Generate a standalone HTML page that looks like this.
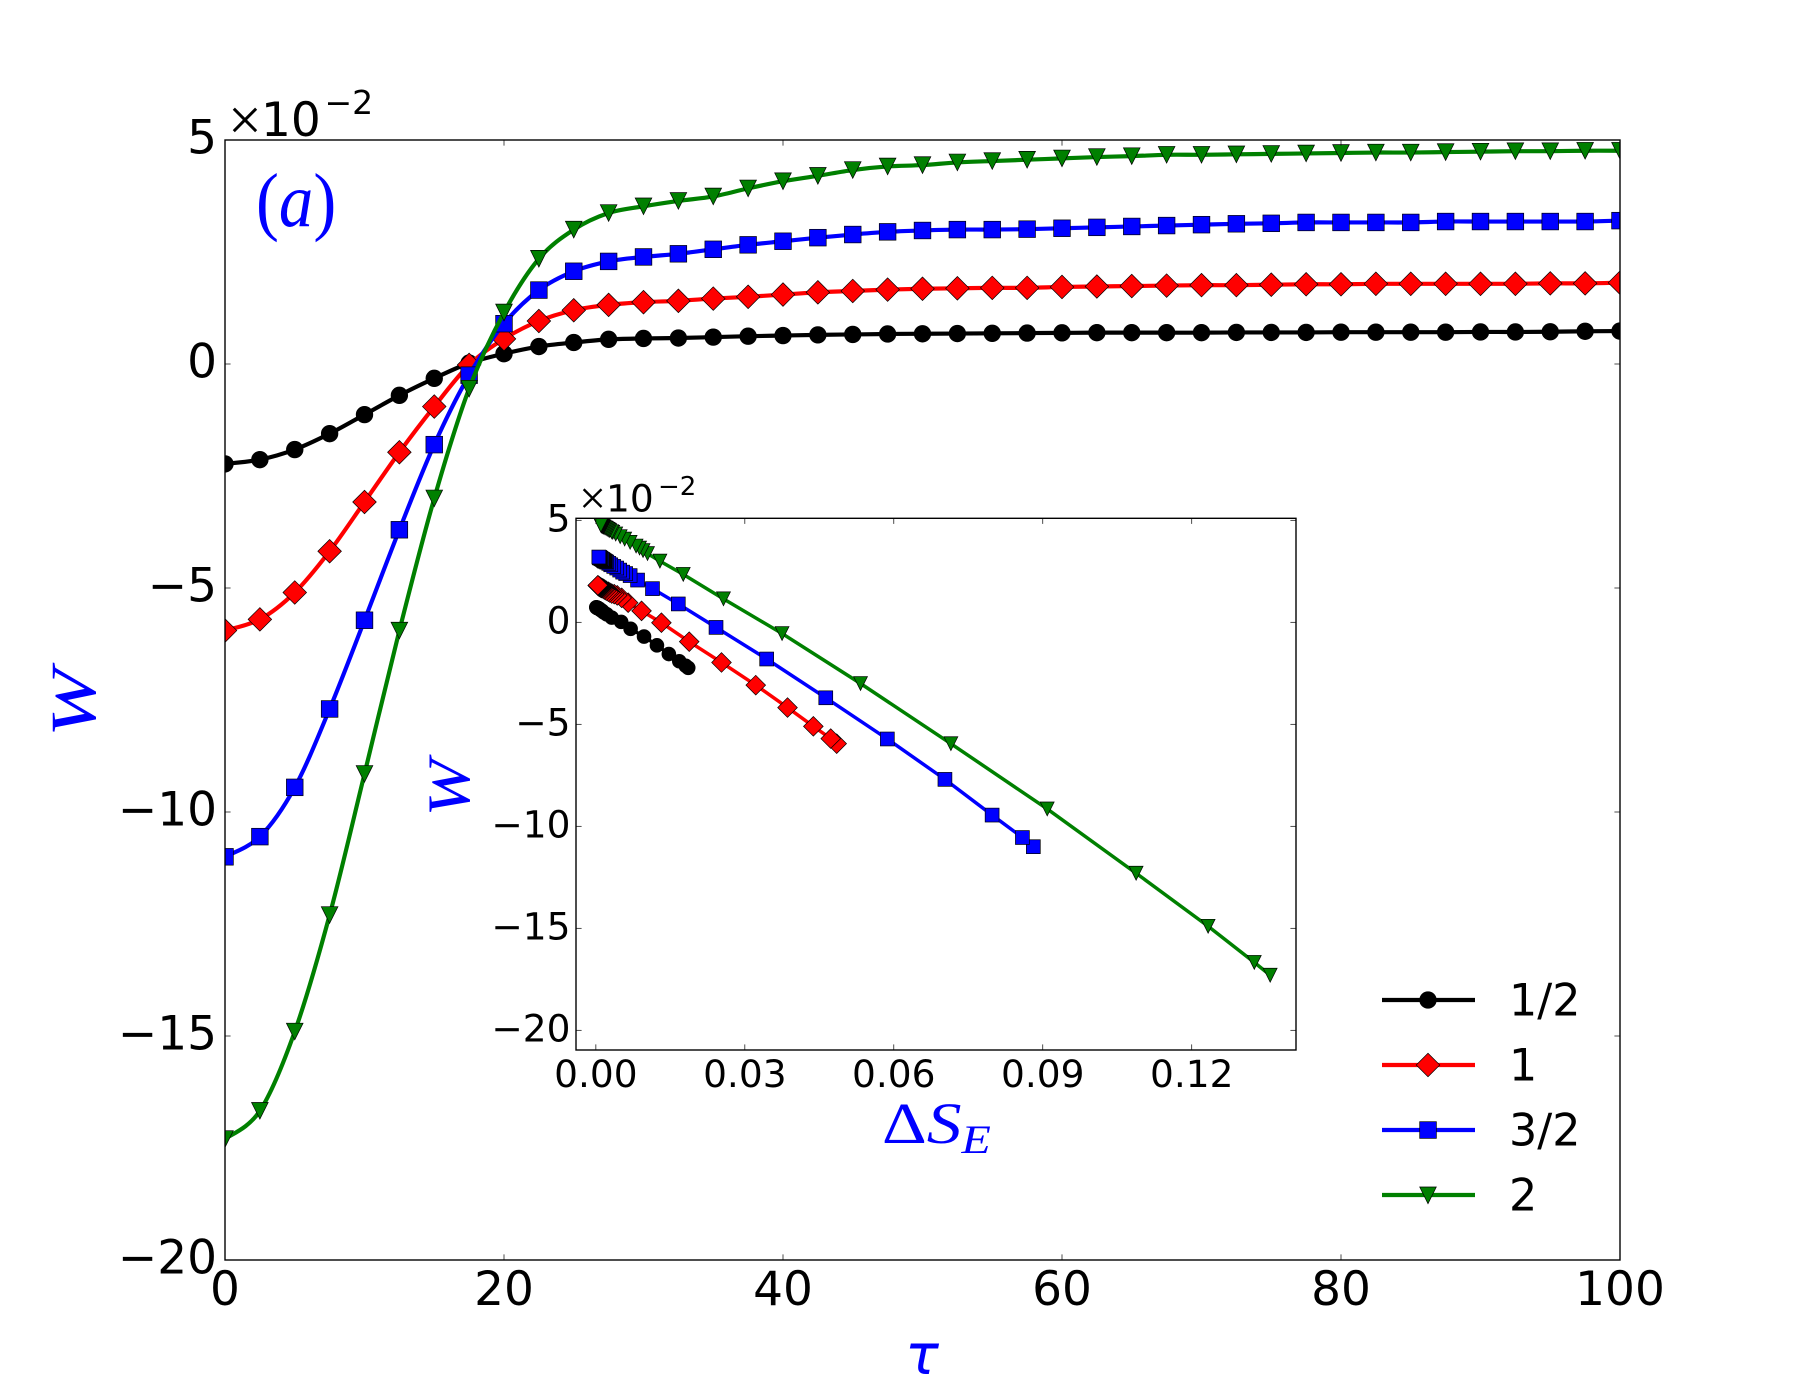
<!DOCTYPE html>
<html>
<head>
<meta charset="utf-8">
<title>W versus tau</title>
<style>
html,body{margin:0;padding:0;background:#fff;}
svg{display:block;}
text{font-family:"DejaVu Sans","Liberation Sans",sans-serif;fill:#000;}
.math{font-family:"Liberation Serif",serif;fill:#0000ff;}
</style>
</head>
<body>
<svg id="chart" xmlns="http://www.w3.org/2000/svg" width="1800" height="1400" viewBox="0 0 1800 1400">
  <defs>
    <clipPath id="main-clip"><rect x="225" y="140" width="1395" height="1120"/></clipPath>
    <clipPath id="inset-clip"><rect x="576" y="518.3" width="720" height="531.7"/></clipPath>
  </defs>
  <rect width="1800" height="1400" fill="#fff"/>
  <g id="main-marks" clip-path="url(#main-clip)"></g>
  <rect x="225" y="140" width="1395" height="1120" fill="none" stroke="#000" stroke-width="1.39"/>
  <g id="main-ticks"></g>

  <text x="228" y="140" style="font-family:'Liberation Serif',serif;font-size:60px;">×</text>
  <text x="261" y="136" font-size="47">10</text>
  <text x="324.5" y="114" font-size="33">−2</text>

  <text class="math" font-size="74" transform="translate(256,226) scale(.93,1.03)">(<tspan font-style="italic">a</tspan>)</text>
  <text class="math" font-style="italic" font-size="76" text-anchor="middle" transform="translate(95,703) rotate(-90) scale(1.08,.855)">W</text>
  <text class="math" font-size="56" text-anchor="middle" x="922" y="1374" style="font-family:'DejaVu Sans',sans-serif;font-style:italic;">τ</text>

  <rect x="576" y="518.3" width="720" height="531.7" fill="#fff"/>
  <g id="inset-marks" clip-path="url(#inset-clip)"></g>
  <rect x="576" y="518.3" width="720" height="531.7" fill="none" stroke="#000" stroke-width="1.39"/>
  <g id="inset-ticks"></g>

  <text x="579" y="514" style="font-family:'Liberation Serif',serif;font-size:48px;">×</text>
  <text x="606" y="511.5" font-size="37.5">10</text>
  <text x="658" y="495" font-size="26">−2</text>

  <text class="math" font-style="italic" font-size="60" text-anchor="middle" transform="translate(469,788) rotate(-90) scale(1.14,1)">W</text>
  <text class="math" font-size="58" transform="translate(882,1143) scale(1.2,1)">Δ<tspan font-style="italic">S</tspan><tspan font-style="italic" font-size="40" dy="10">E</tspan></text>

  <g>
    <g>
      <line x1="1382" y1="1000" x2="1475" y2="1000" stroke="#000" stroke-width="4.17"/>
      <circle cx="1428" cy="1000" r="8.33" fill="#000" stroke="#000" stroke-width="0.69"/>
      <text x="1509" y="1015.5" font-size="44.4">1/2</text>
    </g>
    <g>
      <line x1="1382" y1="1065" x2="1475" y2="1065" stroke="#f00" stroke-width="4.17"/>
      <polygon points="1416.2,1065 1428,1053.2 1439.8,1065 1428,1076.8" fill="#f00" stroke="#000" stroke-width="0.69"/>
      <text x="1509" y="1080.5" font-size="44.4">1</text>
    </g>
    <g>
      <line x1="1382" y1="1130" x2="1475" y2="1130" stroke="#00f" stroke-width="4.17"/>
      <rect x="1419.7" y="1121.7" width="16.67" height="16.67" fill="#00f" stroke="#000" stroke-width="0.69"/>
      <text x="1509" y="1145.5" font-size="44.4">3/2</text>
    </g>
    <g>
      <line x1="1382" y1="1195" x2="1475" y2="1195" stroke="#008000" stroke-width="4.17"/>
      <polygon points="1419.7,1187 1436.3,1187 1428,1203.7" fill="#008000" stroke="#000" stroke-width="0.69"/>
      <text x="1509" y="1210.5" font-size="44.4">2</text>
    </g>
  </g>
</svg>

<script>
// ---------- data ----------
const tau = [
  0,2.5,5,7.5,10,
  12.5,15,17.5,20,22.5,
  25,27.5,30,32.5,35,
  37.5,40,42.5,45,47.5,
  50,52.5,55,57.5,60,
  62.5,65,67.5,70,72.5,
  75,77.5,80,82.5,85,
  87.5,90,92.5,95,97.5,
  100];
const wHalf = [
  -2.23,-2.135,-1.91,-1.555,-1.13,
  -0.70,-0.32,0.02,0.23,0.39,
  0.48,0.55,0.57,0.58,0.60,
  0.62,0.635,0.65,0.66,0.67,
  0.675,0.68,0.685,0.69,0.695,
  0.70,0.70,0.70,0.70,0.705,
  0.705,0.705,0.71,0.71,0.71,
  0.71,0.715,0.715,0.72,0.73,
  0.735];
const wOne = [
  -5.95,-5.7,-5.1,-4.18,-3.08,
  -1.97,-0.95,-0.02,0.56,0.96,
  1.2,1.32,1.38,1.41,1.46,
  1.5,1.55,1.6,1.63,1.66,
  1.68,1.69,1.7,1.7,1.72,
  1.73,1.74,1.75,1.76,1.76,
  1.77,1.78,1.78,1.79,1.79,
  1.79,1.79,1.79,1.8,1.8,
  1.815];
const wThreeHalf = [
  -11.0,-10.55,-9.45,-7.7,-5.72,
  -3.7,-1.8,-0.25,0.9,1.65,
  2.07,2.29,2.39,2.46,2.56,
  2.66,2.74,2.82,2.89,2.95,
  2.98,3.0,3.0,3.01,3.03,
  3.05,3.07,3.09,3.11,3.13,
  3.14,3.16,3.16,3.16,3.16,
  3.18,3.18,3.18,3.18,3.18,
  3.2];
const wTwo = [
  -17.3,-16.67,-14.9,-12.3,-9.15,
  -5.95,-3.0,-0.55,1.15,2.35,
  3.0,3.37,3.52,3.64,3.74,
  3.92,4.08,4.2,4.33,4.41,
  4.44,4.5,4.53,4.56,4.59,
  4.62,4.64,4.67,4.67,4.68,
  4.69,4.7,4.71,4.72,4.72,
  4.73,4.74,4.75,4.75,4.76,
  4.76];
const dsHalf = [
  .0186,.0181,.0168,.0147,.0123,
  .0097,.0070,.0051,.0032,.0022,
  .0016,.0013,.0012,.0011,.0010,
  .0009,.0008,.0007,.0007,.0006,
  .0006,.0005,.0005,.0005,.0004,
  .0004,.0004,.0004,.0004,.0003,
  .0003,.0003,.0003,.0003,.0003,
  .0002,.0002,.0002,.0002,.0001,
  .0001];
const dsOne = [
  .0485,.0473,.0438,.0386,.0322,
  .0253,.0188,.0132,.0092,.0065,
  .0052,.0043,.0037,.0032,.0028,
  .0025,.0021,.0018,.0016,.0014,
  .0012,.0011,.0010,.0010,.0009,
  .0008,.0008,.0007,.0007,.0006,
  .0006,.0006,.0005,.0005,.0005,
  .0005,.0005,.0005,.0004,.0004,
  .0004];
const dsThreeHalf = [
  .0881,.0859,.0798,.0703,.0587,
  .0463,.0344,.0242,.0166,.0114,
  .0084,.0069,.0060,.0054,.0048,
  .0042,.0036,.0030,.0026,.0022,
  .0020,.0018,.0018,.0017,.0016,
  .0015,.0014,.0013,.0011,.0010,
  .0010,.0008,.0008,.0008,.0008,
  .0007,.0007,.0007,.0007,.0007,
  .0006];
const dsTwo = [
  .1358,.1326,.1233,.1088,.0909,
  .0715,.0533,.0375,.0257,.0176,
  .0129,.0104,.0095,.0088,.0081,
  .0069,.0058,.0049,.0040,.0034,
  .0032,.0028,.0026,.0024,.0022,
  .0020,.0018,.0016,.0016,.0015,
  .0014,.0014,.0013,.0012,.0012,
  .0012,.0011,.0011,.0011,.0010,
  .0010];
const mainXTicks = [0,20,40,60,80,100];
const mainYTicks = [5,0,-5,-10,-15,-20];
const insetXTicks = [0,0.03,0.06,0.09,0.12];
const insetXTickLabels = ['0.00','0.03','0.06','0.09','0.12'];
const insetYTicks = [5,0,-5,-10,-15,-20];

// ---------- axis functions ----------
const mainX = t => 225 + t * 13.95;
const mainY = v => 364 - v * 44.8;
const insetX = s => 576 + (s + 0.004) * (720 / 0.145);
const insetY = v => 622.3 - v * 20.4;

const SVGNS = 'http://www.w3.org/2000/svg';
const mainMarks = document.getElementById('main-marks');
const insetMarks = document.getElementById('inset-marks');
const mainTicks = document.getElementById('main-ticks');
const insetTicks = document.getElementById('inset-ticks');

const seriesList = [
  {key:'1-2', color:'#000000', kind:'circle',   w:wHalf,      ds:dsHalf},
  {key:'1',   color:'#ff0000', kind:'diamond',  w:wOne,       ds:dsOne},
  {key:'3-2', color:'#0000ff', kind:'square',   w:wThreeHalf, ds:dsThreeHalf},
  {key:'2',   color:'#008000', kind:'triangle', w:wTwo,       ds:dsTwo}
];

function drawMarker(parent, kind, x, y, size, color, name) {
  let el;
  if (kind === 'circle') {
    el = document.createElementNS(SVGNS, 'circle');
    el.setAttribute('cx', x);
    el.setAttribute('cy', y);
    el.setAttribute('r', size / 2);
  } else if (kind === 'square') {
    el = document.createElementNS(SVGNS, 'rect');
    el.setAttribute('x', x - size / 2);
    el.setAttribute('y', y - size / 2);
    el.setAttribute('width', size);
    el.setAttribute('height', size);
  } else if (kind === 'diamond') {
    const d = size * 0.7071;
    el = document.createElementNS(SVGNS, 'polygon');
    el.setAttribute('points', (x - d) + ',' + y + ' ' + x + ',' + (y - d) + ' ' + (x + d) + ',' + y + ' ' + x + ',' + (y + d));
  } else {
    const h = size / 2;
    el = document.createElementNS(SVGNS, 'polygon');
    el.setAttribute('points', (x - h) + ',' + (y - h) + ' ' + (x + h) + ',' + (y - h) + ' ' + x + ',' + (y + h));
  }
  el.setAttribute('fill', color);
  el.setAttribute('stroke', '#000');
  el.setAttribute('stroke-width', '0.69');
  
  
  parent.appendChild(el);
}

function smoothPath(pts) {
  let d = 'M' + pts[0][0] + ' ' + pts[0][1];
  for (let i = 0; i < pts.length - 1; i++) {
    const p0 = pts[Math.max(i - 1, 0)];
    const p1 = pts[i];
    const p2 = pts[i + 1];
    const p3 = pts[Math.min(i + 2, pts.length - 1)];
    const c1x = p1[0] + (p2[0] - p0[0]) / 6;
    const c1y = p1[1] + (p2[1] - p0[1]) / 6;
    const c2x = p2[0] - (p3[0] - p1[0]) / 6;
    const c2y = p2[1] - (p3[1] - p1[1]) / 6;
    d += 'C' + c1x + ' ' + c1y + ' ' + c2x + ' ' + c2y + ' ' + p2[0] + ' ' + p2[1];
  }
  return d;
}

function drawTick(parent, x1, y1, x2, y2) {
  const el = document.createElementNS(SVGNS, 'line');
  el.setAttribute('x1', x1);
  el.setAttribute('y1', y1);
  el.setAttribute('x2', x2);
  el.setAttribute('y2', y2);
  el.setAttribute('stroke', '#000');
  el.setAttribute('stroke-width', '0.7');
  
  
  parent.appendChild(el);
}

function drawLabel(parent, x, y, str, size, anchor, name) {
  const el = document.createElementNS(SVGNS, 'text');
  el.setAttribute('x', x);
  el.setAttribute('y', y);
  el.setAttribute('font-size', size);
  el.setAttribute('text-anchor', anchor);
  
  
  el.textContent = str;
  parent.appendChild(el);
}

const fmt = v => (v < 0 ? '\u2212' + Math.abs(v) : String(v));

// ---------- main panel ----------
seriesList.forEach(function (s) {
  const g = document.createElementNS(SVGNS, 'g');
  
  
  const path = document.createElementNS(SVGNS, 'path');
  path.setAttribute('d', smoothPath(tau.map((t, i) => [mainX(t), mainY(s.w[i])])));
  path.setAttribute('fill', 'none');
  path.setAttribute('stroke', s.color);
  path.setAttribute('stroke-width', '4.17');
  
  
  g.appendChild(path);
  tau.forEach(function (t, i) {
    drawMarker(g, s.kind, mainX(t), mainY(s.w[i]), 16.67, s.color, 'main-point-' + s.key);
  });
  mainMarks.appendChild(g);
});

mainXTicks.forEach(function (t) {
  drawTick(mainTicks, mainX(t), 1260, mainX(t), 1254.4);
  drawTick(mainTicks, mainX(t), 140, mainX(t), 145.6);
  drawLabel(mainTicks, mainX(t), 1305, String(t), 47, 'middle', 'main-x-tick-label');
});
mainYTicks.forEach(function (v) {
  drawTick(mainTicks, 225, mainY(v), 230.6, mainY(v));
  drawTick(mainTicks, 1620, mainY(v), 1614.4, mainY(v));
  drawLabel(mainTicks, 217, mainY(v) + 13.5, fmt(v), 47, 'end', 'main-y-tick-label');
});

// ---------- inset panel ----------
seriesList.forEach(function (s) {
  const g = document.createElementNS(SVGNS, 'g');
  
  
  const line = document.createElementNS(SVGNS, 'polyline');
  line.setAttribute('points', s.ds.map((d, i) => insetX(d) + ',' + insetY(s.w[i])).join(' '));
  line.setAttribute('fill', 'none');
  line.setAttribute('stroke', s.color);
  line.setAttribute('stroke-width', '3.47');
  
  
  g.appendChild(line);
  s.ds.forEach(function (d, i) {
    drawMarker(g, s.kind, insetX(d), insetY(s.w[i]), 13.9, s.color, 'inset-point-' + s.key);
  });
  insetMarks.appendChild(g);
});

insetXTicks.forEach(function (d, i) {
  drawTick(insetTicks, insetX(d), 1050, insetX(d), 1044.4);
  drawTick(insetTicks, insetX(d), 518.3, insetX(d), 523.9);
  drawLabel(insetTicks, insetX(d), 1087, insetXTickLabels[i], 37.5, 'middle', 'inset-x-tick-label');
});
insetYTicks.forEach(function (v) {
  drawTick(insetTicks, 576, insetY(v), 581.6, insetY(v));
  drawTick(insetTicks, 1296, insetY(v), 1290.4, insetY(v));
  drawLabel(insetTicks, 570.5, insetY(v) + 11, fmt(v), 37.5, 'end', 'inset-y-tick-label');
});
</script>
</body>
</html>
